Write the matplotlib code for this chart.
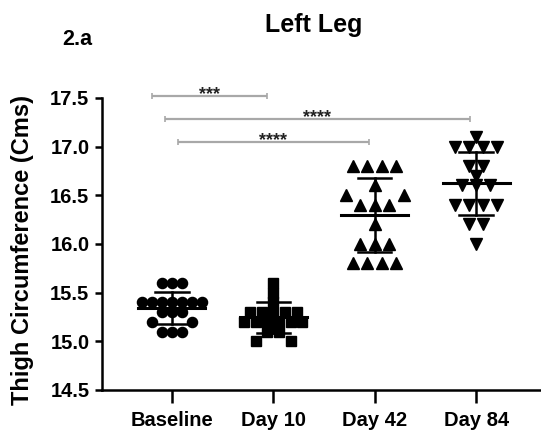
import numpy as np
import matplotlib.pyplot as plt

plt.rcParams['font.family'] = ['Liberation Sans', 'DejaVu Sans']
plt.rcParams['font.weight'] = 'bold'

# readings (thigh circumference, cm)
groups = ['Baseline', 'Day 10', 'Day 42', 'Day 84']
baseline = [15.6, 15.6, 15.6, 15.4, 15.4, 15.4, 15.4, 15.4, 15.4, 15.4,
            15.3, 15.3, 15.3, 15.2, 15.2, 15.1, 15.1, 15.1]
day10 = [15.6, 15.5, 15.4, 15.3, 15.3, 15.3, 15.3, 15.3, 15.2, 15.2,
         15.2, 15.2, 15.2, 15.2, 15.1, 15.1, 15.0, 15.0]
day42 = [16.8, 16.8, 16.8, 16.8, 16.6, 16.5, 16.5, 16.4, 16.4, 16.4,
         16.2, 16.0, 16.0, 16.0, 15.8, 15.8, 15.8, 15.8]
day84 = [17.1, 17.0, 17.0, 17.0, 17.0, 16.8, 16.8, 16.7, 16.6, 16.6,
         16.6, 16.4, 16.4, 16.4, 16.4, 16.2, 16.2, 16.0]
# significance brackets: (from group, to group, label)
sig_pairs = [(0, 1, '***'), (0, 3, '****'), (0, 2, '****')]
yticks = [14.5, 15.0, 15.5, 16.0, 16.5, 17.0, 17.5]

data = [baseline, day10, day42, day84]
markers = ['o', 's', '^', 'v']
msizes = [7.3, 6.6, 8.5, 8.5]
spacing = [0.10, 0.115, 0.143, 0.138]   # horizontal step within a row (x units)


def row_offsets(vals, step, dy_min=0.12):
    # equal values side by side; a row that bumps into a neighbour row
    # gets opened up in the middle (like prism's scatter layout)
    vals = np.asarray(vals)
    off = np.zeros(len(vals))
    uniq = sorted(np.unique(vals), key=lambda v: (-np.sum(vals == v), -v))
    placed = []
    for v in uniq:
        idx = np.where(vals == v)[0]
        base = (np.arange(len(idx)) - (len(idx) - 1) / 2) * step
        chosen = base
        for g in np.arange(0, 2.01, 0.5):
            cand = np.sign(base) * (np.abs(base) + g * step)
            hit = any(abs(py - v) < dy_min and abs(px - c) < 0.9 * step
                      for px, py in placed for c in cand)
            if not hit:
                chosen = cand
                break
        off[idx] = chosen
        placed += [(c, v) for c in chosen]
    return off


fig = plt.figure(figsize=(5.41, 4.38), dpi=100)
ax = fig.add_axes([0.1885, 0.1096, 0.8115, 0.667])

for i, vals in enumerate(data):
    xs = i + row_offsets(vals, spacing[i])
    ax.plot(xs, vals, linestyle='none', marker=markers[i], ms=msizes[i],
            color='black', mec='black', zorder=3)
    m = np.mean(vals)
    sd = np.std(vals, ddof=1)
    ax.plot([i - 0.33, i + 0.33], [m, m], color='black', lw=2.2, zorder=4)
    ax.plot([i, i], [m - sd, m + sd], color='black', lw=1.8, zorder=4)
    for yy in (m - sd, m + sd):
        ax.plot([i - 0.165, i + 0.165], [yy, yy], color='black', lw=1.8, zorder=4)

for k, (a, b, lab) in enumerate(sig_pairs):
    y = 17.52 - 0.235 * k
    x0 = a - 0.2 + 0.13 * k
    x1 = b - 0.06
    ax.plot([x0, x1], [y, y], color='#a8a8a8', lw=1.6, clip_on=False,
            solid_capstyle='butt')
    ax.plot([x0, x1], [y, y], linestyle='none', marker='|', ms=5, mew=1.2,
            color='#a8a8a8', clip_on=False)
    ax.text((x0 + x1) / 2, y - 0.035, lab, ha='center', va='baseline',
            fontsize=13, color='#222222', clip_on=False)

ax.set_xlim(-0.69, 3.64)
ax.set_ylim(14.5, 17.5)
ax.set_yticks(yticks)
ax.set_yticklabels([f'{t:.1f}' for t in yticks])
ax.set_xticks(range(len(groups)))
ax.set_xticklabels(groups)

for s in ['top', 'right']:
    ax.spines[s].set_visible(False)
for s in ['left', 'bottom']:
    ax.spines[s].set_linewidth(1.8)
ax.tick_params(axis='y', length=5, width=1.8, pad=4, labelsize=14.5)
ax.tick_params(axis='x', length=9, width=1.8, pad=6, labelsize=14.5)

fig.text(0.041, 0.43, 'Thigh Circumference (Cms)', rotation=90,
         ha='center', va='center', fontsize=17, fontweight='bold')

fig.text(0.58, 0.943, 'Left Leg', ha='center', va='center', fontsize=18,
         fontweight='bold')
fig.text(0.142, 0.909, '2.a', ha='center', va='center', fontsize=15.5,
         fontweight='bold')

fig.savefig('out.png', dpi=100)
